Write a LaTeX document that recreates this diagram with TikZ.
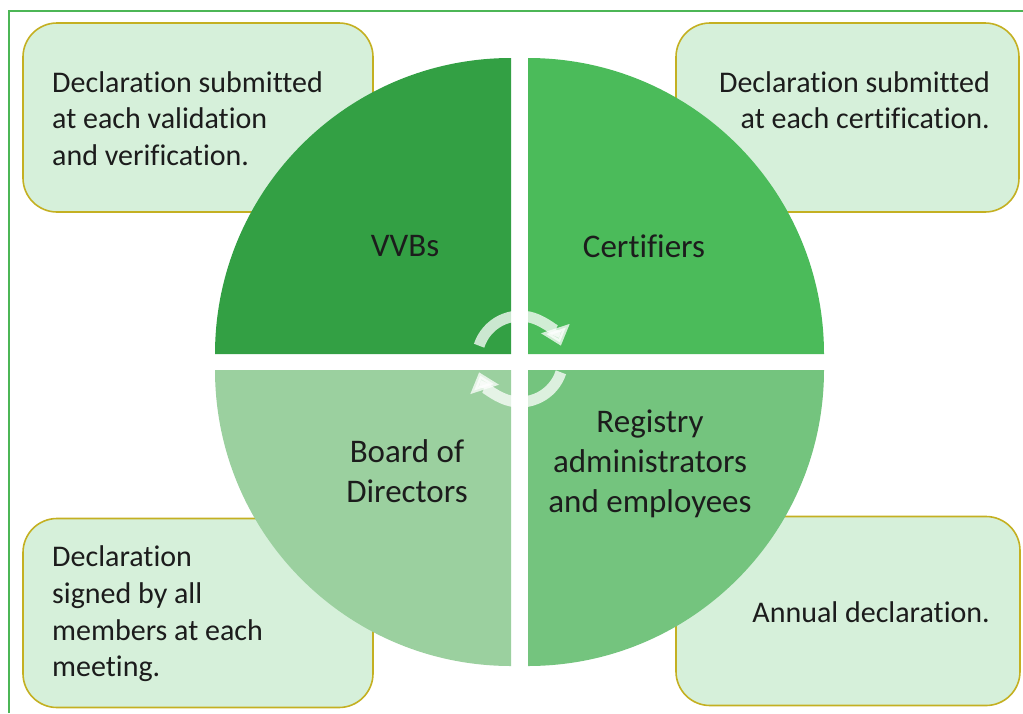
\documentclass[tikz,border=0pt]{standalone}
\usepackage{fontspec}
\setmainfont{Carlito}[RawFeature={-liga;-clig;-calt;-dlig;-rlig;-hlig}]
\usetikzlibrary{arrows.meta}

\definecolor{framegreen}{RGB}{76,182,86}
\definecolor{boxfill}{RGB}{214,240,218}
\definecolor{boxline}{RGB}{196,176,34}
\definecolor{vvbgreen}{RGB}{51,160,68}
\definecolor{certgreen}{RGB}{75,187,90}
\definecolor{reggreen}{RGB}{116,196,126}
\definecolor{boardgreen}{RGB}{155,208,159}
\definecolor{ink}{RGB}{28,28,28}

\begin{document}
\begin{tikzpicture}[x=1pt, y=-1pt,
  box/.style={draw=boxline, fill=boxfill, line width=1.6pt, rounded corners=34pt, minimum height=189pt},
  note/.style={font=\fontsize{30}{36.6}\selectfont, text=ink, inner sep=0pt},
  quadtext/.style={font=\fontsize{33}{40}\selectfont, text=ink, inner sep=0pt, align=center},
  cycarrow/.style={line width=11pt, draw=white, opacity=0.75, -{Triangle[width=29pt, length=18pt]}}]
  \useasboundingbox (0,0) rectangle (1023,713);
  \draw[framegreen, line width=2pt] (9,713) -- (9,11) -- (1023,11);

  \node[box, minimum width=350pt] (vvbbox) at (198,117.5) {};
  \node[box, minimum width=343pt] (certbox) at (847.5,117.5) {};
  \node[box, minimum width=350pt] (boardbox) at (198,613) {};
  \node[box, minimum width=344pt] (regbox) at (848,611) {};

  \node[note, anchor=west, align=left] (vvbnote) at (52,118.5) {Declaration submitted\\at each validation\\and verification.};
  \node[note, anchor=east, align=right] (certnote) at (990,100) {Declaration submitted\\at each certification.};
  \node[note, anchor=west, align=left] (boardnote) at (52,614) {Declaration\\signed by all\\members at each\\meeting.};
  \node[note, anchor=east, align=right] (regnote) at (990,612) {Annual declaration.};

  \fill[vvbgreen] (511,354) -- ++(180:296) arc[start angle=180, end angle=270, radius=296] -- cycle;
  \fill[certgreen] (528,354) -- ++(0:296) arc[start angle=0, end angle=-90, radius=296] -- cycle;
  \fill[reggreen] (528,370) -- ++(0:296) arc[start angle=0, end angle=90, radius=296] -- cycle;
  \fill[boardgreen] (511,370) -- ++(180:296) arc[start angle=180, end angle=90, radius=296] -- cycle;

  \node[quadtext] (vvbs) at (405,246) {VVBs};
  \node[quadtext] (certifiers) at (644,246) {Certifiers};
  \node[quadtext] (board) at (407,471) {Board of\\Directors};
  \node[quadtext] (registry) at (650,464) {Registry\\administrators\\and employees};

  \draw[cycarrow] (520,359) ++(198:43) arc[start angle=198, end angle=342, radius=43];
  \draw[cycarrow] (520,359) ++(18:43) arc[start angle=18, end angle=162, radius=43];
\end{tikzpicture}
\end{document}
